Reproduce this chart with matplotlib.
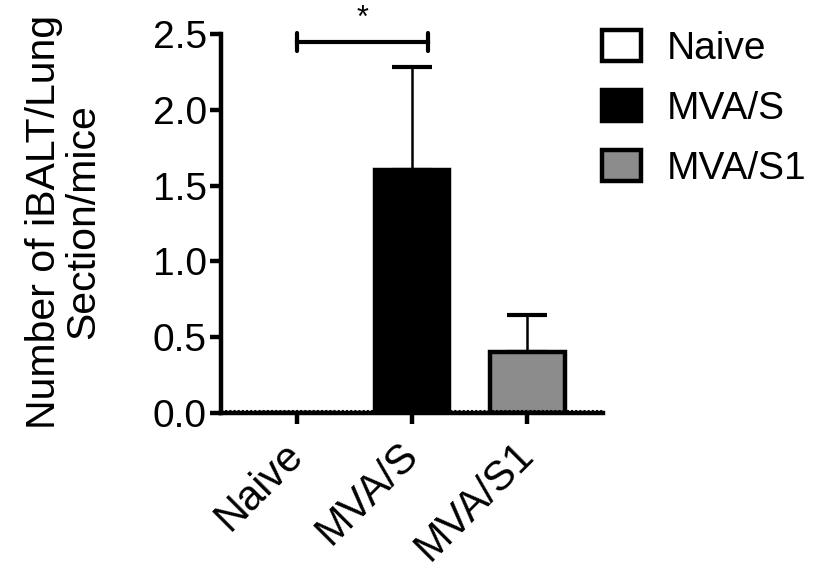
import matplotlib
matplotlib.use("Agg")
import matplotlib.pyplot as plt
from matplotlib.patches import Patch
from matplotlib.transforms import ScaledTranslation

plt.rcParams['font.family'] = ['Liberation Sans', 'DejaVu Sans']

categories = ["Naive", "MVA/S", "MVA/S1"]
means = [0.0, 1.6, 0.4]
errors = [0.0, 0.68, 0.245]
colors = ["white", "black", "#8c8c8c"]
yticks = [0.0, 0.5, 1.0, 1.5, 2.0, 2.5]

LW = 3.2
fig = plt.figure(figsize=(8.24, 5.75), dpi=100)
ax = fig.add_axes([0.268, 0.2817, 0.464, 0.6592])

x = list(range(len(categories)))
for i in x:
    ax.bar(i, means[i], width=0.65, color=colors[i], edgecolor="black",
           linewidth=LW, zorder=2)
    if errors[i] > 0:
        ax.errorbar(i, means[i], yerr=[[0], [errors[i]]], fmt="none",
                    ecolor="black", elinewidth=1.8, capsize=14.4, capthick=3.0, zorder=1)

ax.axhline(0.012, color="black", linestyle=(0, (1, 1)), linewidth=1.5, zorder=3)

# significance bracket
ax.plot([0, 1.14], [2.447, 2.447], color="black", lw=3.0, clip_on=False)
for xb in (0, 1.14):
    ax.plot([xb, xb], [2.385, 2.505], color="black", lw=3.0, clip_on=False,
            solid_capstyle="round")
ax.text(0.57, 2.60, "*", ha="center", va="center", fontsize=22)

ax.set_xlim(-0.66, 2.66)
ax.set_ylim(0, 2.5)
ax.set_yticks(yticks)
ax.set_yticklabels([f"{v:.1f}" for v in yticks], fontsize=28)
ax.set_xticks(x)
ax.set_xticklabels(categories, fontsize=30, rotation=45, ha="right",
                   rotation_mode="anchor")
ax.tick_params(axis="both", width=LW, length=8, direction="out")
ax.tick_params(axis="x", pad=6)
ax.tick_params(axis="y", pad=2)
off = ScaledTranslation(-14 / 100, -2 / 100, fig.dpi_scale_trans)
for lab in ax.get_xticklabels():
    lab.set_transform(lab.get_transform() + off)

for s in ["top", "right"]:
    ax.spines[s].set_visible(False)
for s in ["left", "bottom"]:
    ax.spines[s].set_linewidth(LW)

ax.set_ylabel("Number of iBALT/Lung\nSection/mice", fontsize=29.5, linespacing=1.05)
ax.yaxis.set_label_coords(-0.31, 0.505)

handles = [Patch(facecolor=colors[i], edgecolor="black", linewidth=LW,
                 label=categories[i]) for i in x]
fig.legend(handles=handles, loc="upper left", bbox_to_anchor=(0.731, 0.947),
           frameon=False, fontsize=28, handlelength=1.0, handleheight=0.85,
           labelspacing=0.58, handletextpad=0.65, borderpad=0, borderaxespad=0)

fig.savefig("out.png", dpi=100)
